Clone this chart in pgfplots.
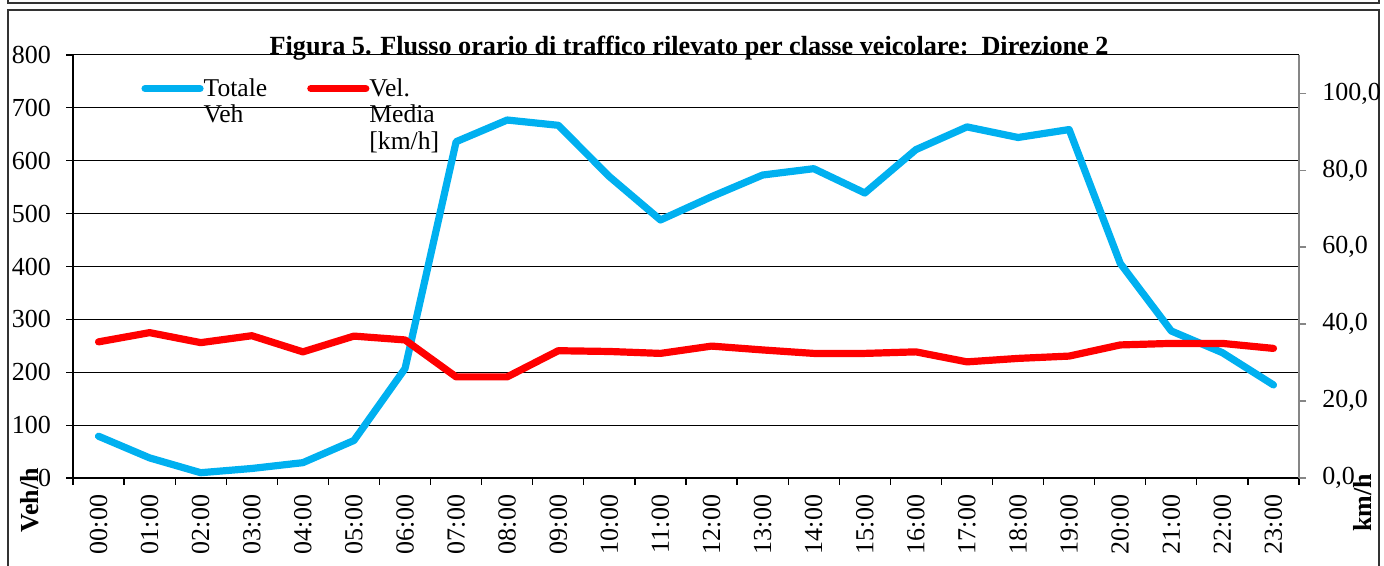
\documentclass[border=0pt]{standalone}
\usepackage{fontspec}
\setmainfont{Liberation Serif}
\usepackage{pgfplots}
\usepackage{pgfplotstable}
\pgfplotsset{compat=1.18}
\definecolor{vehblue}{HTML}{00B0F0}
\definecolor{velred}{HTML}{FF0000}
\definecolor{axgray}{HTML}{868686}
\newcommand{\lblfont}{\fontsize{13}{14}\selectfont}
\newcommand{\legfont}{\fontsize{12.8}{13.4}\selectfont}

\pgfplotstableread{
h veh vel
0 79 35.4
1 38 37.8
2 10 35.2
3 18 37.0
4 29 32.8
5 71 36.9
6 207 35.9
7 636 26.3
8 677 26.3
9 667 33.1
10 570 32.9
11 488 32.4
12 532 34.3
13 573 33.3
14 585 32.4
15 539 32.4
16 621 32.8
17 664 30.2
18 644 31.1
19 659 31.7
20 406 34.6
21 278 35.0
22 237 35.0
23 176 33.7
}\data

\begin{document}
\begin{tikzpicture}
\useasboundingbox (0,0) rectangle (692pt,283pt);
\draw[line width=0.6pt, black!80] (4pt,284pt) -- (4pt,281.5pt) -- (689.5pt,281.5pt) -- (689.5pt,284pt);
\draw[line width=0.6pt, black!80] (4pt,-5pt) -- (4pt,278pt) -- (689.5pt,278pt) -- (689.5pt,-5pt);

\begin{axis}[
  at={(36.5pt,44pt)}, anchor=south west,
  scale only axis, width=613pt, height=211.5pt,
  xmin=-0.5, xmax=23.5, ymin=0, ymax=800,
  axis x line*=bottom, axis y line*=left,
  axis line style={black, line width=0.6pt, -},
  ytick={0,100,...,800},
  ymajorgrids, grid style={black, line width=0.5pt},
  xtick={0,...,23},
  xticklabels={00:00,01:00,02:00,03:00,04:00,05:00,06:00,07:00,08:00,09:00,10:00,11:00,12:00,13:00,14:00,15:00,16:00,17:00,18:00,19:00,20:00,21:00,22:00,23:00},
  minor xtick={-0.5,0.5,...,23.5},
  major x tick style={draw=none},
  minor x tick style={black, line width=0.6pt},
  ytick style={black, line width=0.6pt},
  tick align=outside,
  major tick length=3.3pt, minor tick length=3.3pt,
  tick label style={font=\lblfont},
  xticklabel style={rotate=90, anchor=east, inner sep=0pt, xshift=-5pt},
  yticklabel style={anchor=east, inner sep=0pt, xshift=-7.5pt},
  /pgf/number format/assume math mode=true,
  clip=false,
  legend columns=2,
  legend style={draw=none, fill=none, at={(0.0555,0.9456)}, anchor=north west,
    inner sep=0pt, font=\legfont,
    nodes={inner xsep=0pt, inner ysep=0pt},
    cells={anchor=base west}},
  legend image code/.code={\draw[#1, line cap=round] (0pt,3.8pt) -- (27.5pt,3.8pt);},
]
\addplot[vehblue, line width=3.6pt, line join=round, line cap=round] table[x=h, y=veh] {\data};
\addlegendentry{\parbox[t]{51.8pt}{\raggedright Totale\\Veh}}
\addlegendimage{velred, line width=3.6pt}
\addlegendentry{\parbox[t]{60pt}{\raggedright Vel.\\Media\\{}[km/h]}}
\end{axis}

\begin{axis}[
  at={(36.5pt,44pt)}, anchor=south west,
  scale only axis, width=613pt, height=211.5pt,
  xmin=-0.5, xmax=23.5, ymin=0, ymax=110,
  axis x line=none, axis y line*=right,
  axis line style={axgray, line width=0.8pt, -},
  ytick={0,20,...,100},
  ytick style={axgray, line width=0.8pt},
  tick align=outside, major tick length=3.5pt,
  tick label style={font=\lblfont},
  yticklabel style={anchor=west, inner sep=0pt, xshift=8pt, /pgf/number format/.cd, fixed, fixed zerofill, precision=1, use comma},
  /pgf/number format/assume math mode=true,
  clip=false,
]
\addplot[velred, line width=3.6pt, line join=round, line cap=round] table[x=h, y=vel] {\data};
\end{axis}

\node[anchor=base, font=\bfseries\fontsize{13.1}{14}\selectfont] at (344.5pt,255.8pt) {Figura 5. Flusso orario di traffico rilevato per classe veicolare:\ \ Direzione 2};
\node[rotate=90, font=\bfseries\lblfont] at (15pt,33pt) {Veh/h};
\node[rotate=90, font=\bfseries\lblfont] at (681.5pt,31.5pt) {km/h};
\end{tikzpicture}
\end{document}
